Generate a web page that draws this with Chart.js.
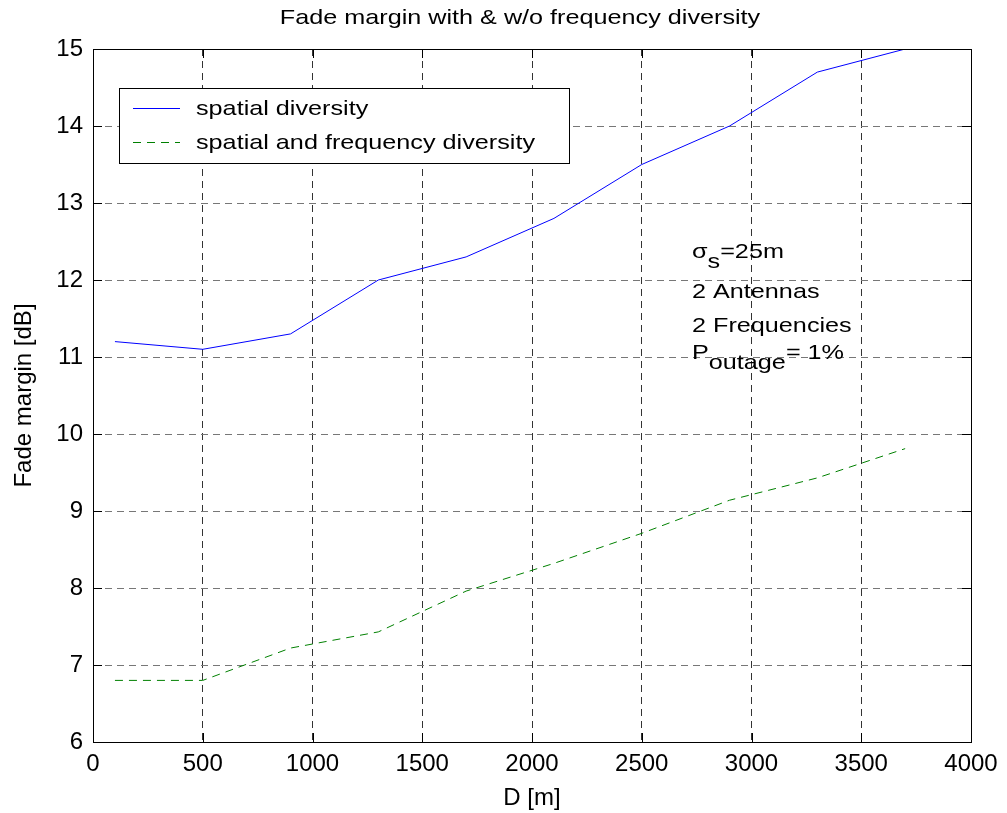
<!DOCTYPE html>
<html>
<head>
<meta charset="utf-8">
<script src="https://cdn.jsdelivr.net/npm/chart.js@4/dist/chart.umd.min.js"></script>
<style>
  html, body { margin: 0; padding: 0; background: #fff; }
  #wrap { width: 1007px; height: 813px; }
</style>
</head>
<body>
<div id="wrap"><canvas id="fadeChart" width="1007" height="813"></canvas></div>
<script>
'use strict';

// link distance D [m]
const distances = [100, 500, 900, 1300, 1700, 2100, 2500, 2900, 3300, 3700];
// fade margin [dB]
const spatialOnly = [11.2, 11.1, 11.3, 12.0, 12.3, 12.8, 13.5, 14.0, 14.7, 15.0];
const spatialFreq = [6.8, 6.8, 7.22, 7.43, 7.96, 8.32, 8.71, 9.14, 9.43, 9.81];
const seriesNames = ['spatial diversity', 'spatial and frequency diversity'];
const xTicks = [0, 500, 1000, 1500, 2000, 2500, 3000, 3500, 4000];
const yTicks = [6, 7, 8, 9, 10, 11, 12, 13, 14, 15];
const chartTitle = 'Fade margin with & w/o frequency diversity';
const xTitle = 'D [m]';
const yTitle = 'Fade margin [dB]';
// annotation: [main, subscript, rest]
const noteLines = [
  ['\u03c3', 's', '=25m'],
  ['2 Antennas', '', ''],
  ['2 Frequencies', '', ''],
  ['P', 'outage', '= 1%']
];

const FONT = 'Liberation Sans, Arial, Helvetica, sans-serif';
const TICK_SIZE = 24;
const LABEL_SIZE = 24;
const GRID_DASH = [7, 5];
const STRETCH = 1.2; // the original figure text is a bit wider than tall

function toPoints(ys) {
  return ys.map((y, i) => ({ x: distances[i], y }));
}

// stretched text, returns drawn width
function wideText(ctx, text, x, y) {
  ctx.save();
  ctx.translate(x, y);
  ctx.scale(STRETCH, 1);
  ctx.fillText(text, 0, 0);
  ctx.restore();
  return ctx.measureText(text).width * STRETCH;
}

// draws title, frame, inner ticks, legend box and the text block
const matlabDecor = {
  id: 'matlabDecor',
  afterDatasetsDraw(chart) {
    const { ctx, chartArea: a, scales } = chart;
    const xs = scales.x;
    const ys = scales.y;
    ctx.save();

    // title, centred over the axes
    ctx.font = `21px ${FONT}`;
    ctx.fillStyle = '#000';
    ctx.textAlign = 'left';
    ctx.textBaseline = 'alphabetic';
    const tw = ctx.measureText(chartTitle).width * STRETCH;
    wideText(ctx, chartTitle, 520 - tw / 2, 24);

    ctx.setLineDash([]);
    ctx.strokeStyle = '#000';
    ctx.lineWidth = 1;
    ctx.strokeRect(a.left + 0.5, a.top + 0.5, a.right - a.left, a.bottom - a.top);

    // inner ticks on all four sides
    const tl = 9;
    ctx.beginPath();
    xTicks.forEach((v) => {
      const px = Math.round(xs.getPixelForValue(v)) + 0.5;
      ctx.moveTo(px, a.bottom); ctx.lineTo(px, a.bottom - tl);
      ctx.moveTo(px, a.top); ctx.lineTo(px, a.top + tl);
    });
    yTicks.forEach((v) => {
      const py = Math.round(ys.getPixelForValue(v)) + 0.5;
      ctx.moveTo(a.left, py); ctx.lineTo(a.left + tl, py);
      ctx.moveTo(a.right, py); ctx.lineTo(a.right - tl, py);
    });
    ctx.stroke();

    // legend
    const lx = 119, ly = 88, lw = 450, lh = 75;
    ctx.fillStyle = '#fff';
    ctx.fillRect(lx, ly, lw, lh);
    ctx.strokeRect(lx + 0.5, ly + 0.5, lw, lh);
    ctx.font = `21px ${FONT}`;
    chart.data.datasets.forEach((ds, i) => {
      const cy = 108 + i * 34;
      ctx.strokeStyle = ds.borderColor;
      ctx.setLineDash(ds.borderDash || []);
      ctx.beginPath();
      ctx.moveTo(133, cy + 0.5);
      ctx.lineTo(180, cy + 0.5);
      ctx.stroke();
      ctx.setLineDash([]);
      ctx.fillStyle = '#000';
      wideText(ctx, ds.label, 196, cy + 7);
    });

    // text block
    const nx = 692;
    const baseY = [258, 298, 332, 359];
    noteLines.forEach((parts, i) => {
      let x = nx;
      const y = baseY[i];
      x += wideText(ctx, parts[0], x, y);
      if (parts[1]) {
        x += wideText(ctx, parts[1], x, y + 10);
      }
      if (parts[2]) {
        wideText(ctx, parts[2], x, y);
      }
    });
    ctx.restore();
  }
};

new Chart(document.getElementById('fadeChart'), {
  type: 'line',
  data: {
    datasets: [
      {
        label: seriesNames[0],
        data: toPoints(spatialOnly),
        borderColor: '#0000ff',
        borderWidth: 1,
        pointRadius: 0,
        tension: 0
      },
      {
        label: seriesNames[1],
        data: toPoints(spatialFreq),
        borderColor: '#008000',
        borderWidth: 1,
        borderDash: [8, 6],
        pointRadius: 0,
        tension: 0
      }
    ]
  },
  options: {
    responsive: false,
    animation: false,
    layout: { padding: { left: 0, top: 49, right: 36, bottom: 0 } },
    plugins: {
      legend: { display: false },
      tooltip: { enabled: false },
      title: { display: false }
    },
    scales: {
      x: {
        type: 'linear',
        min: 0,
        max: 4000,
        afterBuildTicks(scale) {
          scale.ticks = xTicks.map((value) => ({ value }));
        },
        afterFit(scale) { scale.height = 71; },
        grid: { color: '#333', drawTicks: false, lineWidth: 1 },
        border: { display: false, dash: GRID_DASH },
        ticks: {
          color: '#000',
          padding: 8,
          maxRotation: 0,
          font: { family: FONT, size: TICK_SIZE },
          callback(value) { return String(value); }
        },
        title: {
          display: true,
          text: xTitle,
          color: '#000',
          font: { family: FONT, size: LABEL_SIZE },
          padding: { top: 0, bottom: 0 }
        }
      },
      y: {
        min: 6,
        max: 15,
        afterBuildTicks(scale) {
          scale.ticks = yTicks.map((value) => ({ value }));
        },
        afterFit(scale) { scale.width = 93; },
        grid: { color: '#777', drawTicks: false, lineWidth: 1 },
        border: { display: false, dash: GRID_DASH },
        ticks: {
          color: '#000',
          padding: 10,
          font: { family: FONT, size: TICK_SIZE },
          callback(value) { return String(value); }
        },
        title: {
          display: true,
          text: yTitle,
          color: '#000',
          font: { family: FONT, size: LABEL_SIZE },
          padding: { top: 10, bottom: 0 }
        }
      }
    }
  },
  plugins: [matlabDecor]
});
</script>
</body>
</html>
